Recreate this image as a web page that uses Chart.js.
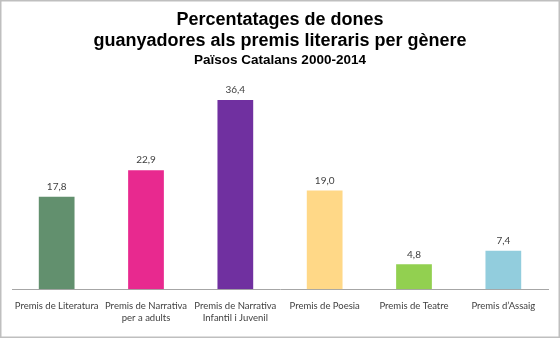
<!DOCTYPE html>
<html>
<head>
<meta charset="utf-8">
<script src="https://cdn.jsdelivr.net/npm/chart.js@4/dist/chart.umd.min.js"></script>
<style>
html,body{margin:0;padding:0;background:#fff;}
#wrap{width:560px;height:338px;position:relative;}
</style>
</head>
<body>
<div id="wrap"><canvas id="c" width="560" height="338"></canvas></div>
<script>
const titleLines = ["Percentatages de dones", "guanyadores als premis literaris per gènere"];
const subtitleText = "Països Catalans 2000-2014";
const categories = [
  "Premis de Literatura",
  ["Premis de Narrativa", "per a adults"],
  ["Premis de Narrativa", "Infantil i Juvenil"],
  "Premis de Poesia",
  "Premis de Teatre",
  "Premis d’Assaig"
];
const values = [17.8, 22.9, 36.4, 19.0, 4.8, 7.4];
const barColors = ["#62906E", "#E8298F", "#7030A0", "#FFD887", "#92D050", "#92CDDD"];

const valueLabels = {
  id: 'valueLabels',
  afterDatasetsDraw(chart) {
    const ctx = chart.ctx;
    const meta = chart.getDatasetMeta(0);
    ctx.save();
    ctx.font = '10px Lato';
    ctx.fillStyle = '#404040';
    ctx.textAlign = 'center';
    ctx.textBaseline = 'bottom';
    meta.data.forEach((bar, i) => {
      ctx.fillText(values[i].toFixed(1).replace('.', ','), bar.x, bar.y - 5);
    });
    ctx.restore();
  }
};
const frame = {
  id: 'frame',
  afterDraw(chart) {
    const ctx = chart.ctx;
    ctx.save();
    ctx.strokeStyle = '#BFBFBF';
    ctx.lineWidth = 1.5;
    ctx.strokeRect(0.75, 0.75, chart.width - 1.5, chart.height - 1.5);
    ctx.restore();
  }
};

new Chart(document.getElementById('c'), {
  type: 'bar',
  data: {
    labels: categories,
    datasets: [{
      data: values,
      backgroundColor: barColors,
      barPercentage: 0.5,
      categoryPercentage: 0.8
    }]
  },
  options: {
    responsive: false,
    animation: false,
    devicePixelRatio: 1,
    layout: { padding: { left: 12, right: 12, bottom: 3, top: 0 } },
    plugins: {
      legend: { display: false },
      tooltip: { enabled: false },
      title: {
        display: true,
        text: titleLines,
        color: '#000',
        font: { family: 'Liberation Sans', size: 18, weight: 'bold', lineHeight: 1.2 },
        padding: { top: 9, bottom: 0 }
      },
      subtitle: {
        display: true,
        text: subtitleText,
        color: '#000',
        font: { family: 'Liberation Sans', size: 13.5, weight: 'bold', lineHeight: 1.2 },
        padding: { top: 0, bottom: 13 }
      }
    },
    scales: {
      x: {
        grid: { display: false, drawTicks: false },
        border: { display: true, color: '#A6A6A6', width: 1 },
        ticks: {
          color: '#404040',
          font: { family: 'Lato', size: 9.5, lineHeight: 1.25 },
          padding: 11,
          autoSkip: false,
          maxRotation: 0,
          minRotation: 0
        }
      },
      y: {
        display: false,
        min: 0,
        max: 40
      }
    }
  },
  plugins: [valueLabels, frame]
});
</script>
</body>
</html>
